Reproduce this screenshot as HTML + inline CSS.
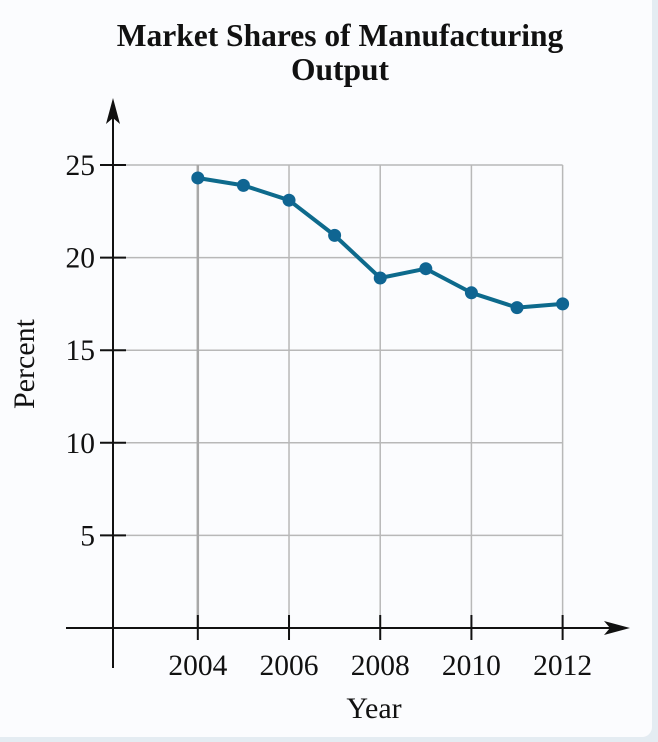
<!DOCTYPE html>
<html><head><meta charset="utf-8"><style>
html,body{margin:0;padding:0;background:#e4ecf2;}
#wrap{position:relative;width:658px;height:742px;overflow:hidden;}
#panel{position:absolute;left:0;top:0;width:652px;height:737px;background:#fbfcfe;border-bottom-right-radius:10px;}
svg{position:absolute;left:0;top:0;}
text{font-family:"Liberation Serif",serif;fill:#111;}
</style></head><body>
<div id="wrap">
<div id="panel"></div>
<svg id="chart" width="658" height="742">
<text x="340" y="46" text-anchor="middle" font-size="31.5" font-weight="bold">Market Shares of Manufacturing</text>
<text x="340" y="80" text-anchor="middle" font-size="31.5" font-weight="bold">Output</text>
<text x="34" y="364" text-anchor="middle" font-size="30" transform="rotate(-90 34 364)">Percent</text>
<text x="374" y="718" text-anchor="middle" font-size="30">Year</text>
<g id="grid"></g><g id="axes"></g><g id="series"></g>
</svg>
</div>
<script>
const years=[2004,2005,2006,2007,2008,2009,2010,2011,2012];
const percents=[24.3,23.9,23.1,21.2,18.9,19.4,18.1,17.3,17.5];
const xTicks=[2004,2006,2008,2010,2012];
const yTicks=[5,10,15,20,25];
const NS='http://www.w3.org/2000/svg';
const x0=113,y0=628,xPerYear=45.6,yPerUnit=18.52,yearOrigin=2002.14;
function X(v){return x0+(v-yearOrigin)*xPerYear;}
function Y(v){return y0-v*yPerUnit;}
function mk(tag,attrs,parent){const e=document.createElementNS(NS,tag);for(const k in attrs)e.setAttribute(k,attrs[k]);parent.appendChild(e);return e;}
const grid=document.getElementById('grid'),axes=document.getElementById('axes'),series=document.getElementById('series');
const xr=X(2012),yt=Y(25);
yTicks.forEach(t=>{
 const l=mk('line',{x1:x0,x2:xr,y1:Y(t),y2:Y(t),stroke:'#b8b8b8','stroke-width':1.5},grid);
 
 
 const tk=mk('line',{x1:x0-13,x2:x0+13,y1:Y(t),y2:Y(t),stroke:'#111','stroke-width':2},axes);
 
 
 const tx=mk('text',{x:x0-18,y:Y(t)+10,'text-anchor':'end','font-size':29.5},axes);
 tx.textContent=t;
 
 
});
xTicks.forEach(t=>{
 const l=mk('line',{x1:X(t),x2:X(t),y1:yt,y2:y0,stroke:t===2004?'#a8a8a8':'#b8b8b8','stroke-width':t===2004?2.5:1.5},grid);
 
 
 const tk=mk('line',{x1:X(t),x2:X(t),y1:y0-13,y2:y0+12,stroke:'#111','stroke-width':2},axes);
 
 
 const tx=mk('text',{x:X(t),y:675,'text-anchor':'middle','font-size':29.5},axes);
 tx.textContent=t;
 
 
});
const ya=mk('line',{x1:x0,x2:x0,y1:112,y2:668,stroke:'#111','stroke-width':2},axes);


const yh=mk('path',{d:'M113,98 L106,124 L113,118 L120,124 Z',fill:'#111'},axes);


const xa=mk('line',{x1:66,x2:614,y1:y0,y2:y0,stroke:'#111','stroke-width':2},axes);


const xh=mk('path',{d:'M630,628 L604,621 L610,628 L604,635 Z',fill:'#111'},axes);


const pts=years.map((y,i)=>X(y)+','+Y(percents[i])).join(' ');
const pl=mk('polyline',{points:pts,fill:'none',stroke:'#0d6a8c','stroke-width':4,'stroke-linejoin':'round'},series);


years.forEach((y,i)=>{
 const c=mk('circle',{cx:X(y),cy:Y(percents[i]),r:6.5,fill:'#0f6592'},series);
 
 
});
</script>
</body></html>
